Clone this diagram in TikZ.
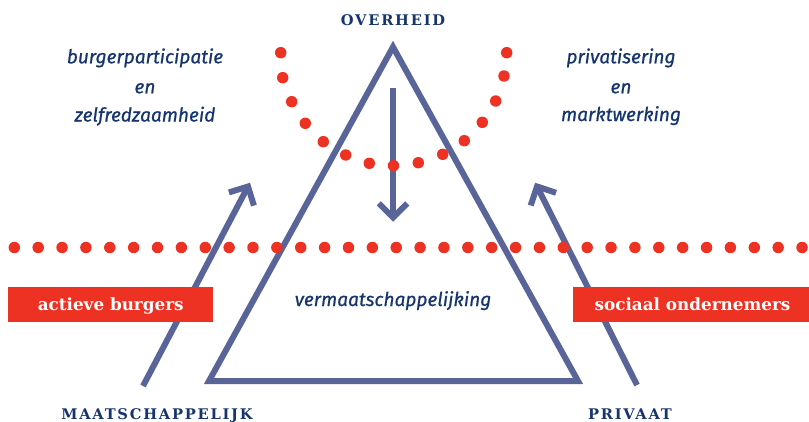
\documentclass[tikz,border=0pt]{standalone}
\usepackage{fontspec}
\setmainfont{DejaVu Serif}
\newfontfamily\capsfont[LetterSpace=12]{DejaVu Serif}
\newfontfamily\itfont[FakeBold=0.7]{Fira Sans}
\usetikzlibrary{calc}
\definecolor{lineblue}{RGB}{89,101,153}
\definecolor{dotred}{RGB}{237,50,36}
\definecolor{navy}{RGB}{22,52,110}
\tikzset{
  tri/.style={draw=lineblue, line width=4.5pt, line join=miter},
  shaft/.style={draw=lineblue, line width=4.5pt},
  barb/.style={draw=lineblue, line width=4.5pt, line join=miter},
  reddot/.style={fill=dotred},
  redbox/.style={fill=dotred},
  capslabel/.style={anchor=base, inner sep=0pt, text=navy, font=\capsfont\bfseries\fontsize{11}{13}\selectfont},
  itlabel/.style={anchor=base, inner sep=0pt, text=navy, font=\itfont\itshape\fontsize{14.3}{16}\selectfont},
  boxlabel/.style={anchor=base, inner sep=0pt, text=white, font=\bfseries\fontsize{12.6}{14}\selectfont},
}
\begin{document}
\begin{tikzpicture}[x=0.75pt,y=-0.75pt]
\useasboundingbox (0,0) rectangle (809,421);
% triangle
\coordinate (apex) at (393,47);
\coordinate (bl) at (209,381);
\coordinate (br) at (578,381);
\draw[tri] (apex) -- (bl) -- (br) -- cycle;
% down arrow
\coordinate (ds) at (393,88);
\coordinate (dt) at (393,217.5);
\draw[shaft] (ds) -- ($(dt)!3pt!(ds)$);
\draw[barb] ($(dt)!15pt!45:(ds)$) -- (dt) -- ($(dt)!15pt!-45:(ds)$);
% left arrow
\coordinate (ls) at (143,386);
\coordinate (lt) at (248,186.5);
\draw[shaft] (ls) -- ($(lt)!3pt!(ls)$);
\draw[barb] ($(lt)!15pt!45:(ls)$) -- (lt) -- ($(lt)!15pt!-45:(ls)$);
% right arrow
\coordinate (rs) at (637,385);
\coordinate (rt) at (537,186.5);
\draw[shaft] (rs) -- ($(rt)!3pt!(rs)$);
\draw[barb] ($(rt)!15pt!45:(rs)$) -- (rt) -- ($(rt)!15pt!-45:(rs)$);
% red dots: horizontal
\foreach \i in {0,...,33}
  \fill[reddot] (14.3+23.87*\i,247.5) circle (4.3pt);
% red dots: curve
\foreach \p in {(280.7,52.7),(282.7,77.7),(291.7,101.7),(305.3,123.3),(323.3,141.7),(345.7,155),(369.3,163.3),(393.5,165.7),(418.3,162.7),(442.7,154.3),(464.3,140.7),(482.3,122.3),(495.7,101),(504,76),(506.7,52.7)}
  \fill[reddot] \p circle (4.3pt);
% red boxes
\fill[redbox] (8,287) rectangle (213,322);
\fill[redbox] (573,287) rectangle (809,322);
\node[boxlabel] (actieve) at (110.7,310.7) {actieve burgers};
\node[boxlabel] (sociaal) at (692.5,310.7) {sociaal ondernemers};
% caps labels
\node[capslabel] (overheid) at (393,25) {OVERHEID};
\node[capslabel] (maatsch) at (157,419) {MAATSCHAPPELIJK};
\node[capslabel] (privaat) at (630,419) {PRIVAAT};
% italic labels
\node[itlabel] (bp1) at (145,63.3) {burgerparticipatie};
\node[itlabel] (bp2) at (145,93.3) {en};
\node[itlabel] (bp3) at (145,121.5) {zelfredzaamheid};
\node[itlabel] (pm1) at (621,63.3) {privatisering};
\node[itlabel] (pm2) at (621,93.3) {en};
\node[itlabel] (pm3) at (621,121) {marktwerking};
\node[itlabel] (verm) at (393,306) {vermaatschappelijking};
\end{tikzpicture}
\end{document}
